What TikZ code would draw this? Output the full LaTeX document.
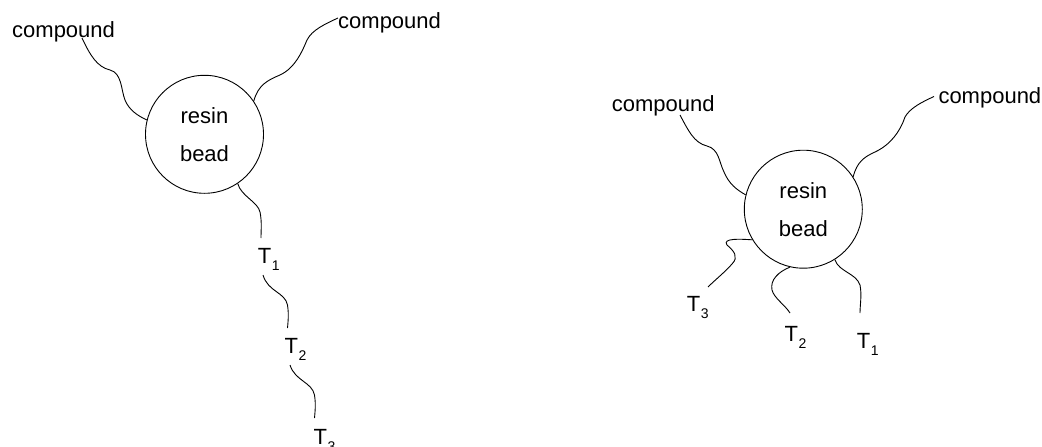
\documentclass[tikz,border=0pt]{standalone}
\usepackage{fontspec}
\setmainfont{Liberation Sans}
\newcommand\Tlab[1]{T\kern0.6pt\raisebox{-6.7pt}{\fontsize{14}{14}\selectfont #1}}
\begin{document}
\begin{tikzpicture}[x=1pt,y=-1pt,
  wire/.style={line width=0.9pt,black},
  bead/.style={circle,draw,line width=0.9pt,minimum size=118pt,inner sep=0pt,align=center,
    font=\fontsize{22}{38}\selectfont},
  lab/.style={anchor=base west,inner sep=0pt,font=\fontsize{22}{26}\selectfont}]
\useasboundingbox (0,0) rectangle (1042,447);
% ---------- left diagram ----------
\node[bead] (cL) at (204.5,134.3) {resin\\bead};
\node[lab] (cpLa) at (12,37) {compound};
\node[lab] (cpLb) at (338,28.3) {compound};
\node[lab] (tL1) at (257.7,263.3) {\Tlab{1}};
\node[lab] (tL2) at (284.3,353.3) {\Tlab{2}};
\node[lab] (tL3) at (313.3,444.4) {\Tlab{3}};
\coordinate (pLa) at (82,38);
\coordinate (pLb) at (338,18);
\coordinate (pL1a) at (261,238);
\coordinate (pL1b) at (263,275);
\coordinate (pL2a) at (287.5,328);
\coordinate (pL2b) at (290,365);
\coordinate (pL3a) at (314.5,418);
\draw[wire] (pLa) .. controls (90,55) and (97,67) .. (110,70)
  .. controls (122,73) and (121,90) .. (125,100)
  .. controls (129,110) and (138,116) .. (cL.166.3);
\draw[wire] (cL.34.7) .. controls (258,85) and (268,80) .. (280,75)
  .. controls (295,68) and (302,52) .. (307,40)
  .. controls (312,30) and (325,24) .. (pLb);
\draw[wire] (cL.-56.3) .. controls (241,196) and (258,202) .. (260,212)
  .. controls (262,222) and (261,230) .. (pL1a);
\draw[wire] (pL1b) .. controls (268,292) and (285,292) .. (287.5,305)
  .. controls (289,315) and (288,322) .. (pL2a);
\draw[wire] (pL2b) .. controls (295,381) and (312,382) .. (314.5,395)
  .. controls (316,405) and (315,412) .. (pL3a);
% ---------- right diagram ----------
\node[bead] (cR) at (803.3,209.2) {resin\\bead};
\node[lab] (cpRa) at (611.7,111.7) {compound};
\node[lab] (cpRb) at (938.3,103.3) {compound};
\node[lab] (tR3) at (686.7,311.7) {\Tlab{3}};
\node[lab] (tR2) at (784.3,341.7) {\Tlab{2}};
\node[lab] (tR1) at (856.7,348.3) {\Tlab{1}};
\coordinate (pRa) at (680,115);
\coordinate (pRb) at (934,96.5);
\coordinate (pR3) at (708,287);
\coordinate (pR2) at (790,313);
\coordinate (pR1) at (860,313);
\draw[wire] (pRa) .. controls (688,130) and (694,143) .. (707,146)
  .. controls (719,149) and (719,162) .. (724,172)
  .. controls (729,184) and (737,190) .. (cR.166.3);
\draw[wire] (cR.33) .. controls (857,162) and (864,157) .. (875,152)
  .. controls (890,145) and (900,132) .. (905,117)
  .. controls (910,108) and (922,102) .. (pRb);
\draw[wire] (cR.211.6) .. controls (740,239) and (722,238) .. (727,245)
  .. controls (734,251) and (739,257) .. (732,264)
  .. controls (725,272) and (715,280) .. (pR3);
\draw[wire] (cR.257.2) .. controls (778,272) and (770,280) .. (772,290)
  .. controls (774,298) and (785,305) .. (pR2);
\draw[wire] (cR.302) .. controls (839,272) and (856,273) .. (860,285)
  .. controls (862,295) and (860,305) .. (pR1);
\end{tikzpicture}
\end{document}
